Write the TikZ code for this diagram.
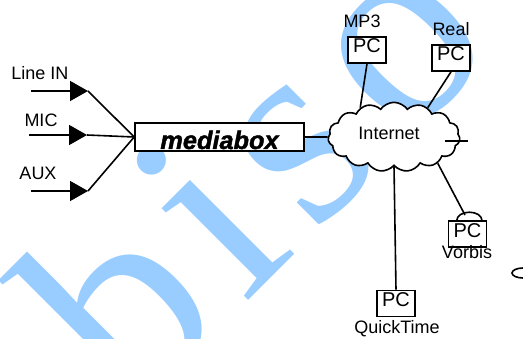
\documentclass[tikz,border=0pt]{standalone}
\usepackage{fontspec}
\setmainfont{Liberation Sans}
\newfontfamily\wmfont[LetterSpace=7.5]{Liberation Serif}
\newfontfamily\boxfont[FakeBold=1.6]{Liberation Sans}
\usepackage{tikz}
\usetikzlibrary{arrows.meta,shapes.symbols}
\definecolor{wmblue}{HTML}{99CCFF}

\begin{document}
\begin{tikzpicture}[x=0.75pt,y=-0.75pt,
  lbl/.style={inner sep=0pt,font=\fontsize{13.5}{14}\selectfont},
  pc/.style={draw,fill=white,line width=1.2pt,minimum width=28.5pt,inner xsep=0pt,inner ysep=1pt,
    text height=11pt,text depth=6.5pt,font=\fontsize{15}{15}\selectfont},
  e/.style={line width=1.2pt},
  src/.style={e,-{Triangle[length=13.5pt,width=15pt]}}]
  \useasboundingbox (0,0) rectangle (523,338);
  \clip (0,0) rectangle (523,338);
  % watermark behind everything
  \node[rotate=45,anchor=base west,inner sep=0pt,text=wmblue,font=\wmfont\fontsize{206}{206}\selectfont] (wm) at (133,416) {biso};
  % sources
  \node[lbl] (li) at (40,73) {Line IN}; \node[lbl] (mic) at (41,120) {MIC}; \node[lbl] (aux) at (38,173) {AUX};
  \coordinate (li0) at (31,91); \coordinate (li1) at (88,91);
  \coordinate (mic0) at (29,135); \coordinate (mic1) at (87,135);
  \coordinate (aux0) at (31,191); \coordinate (aux1) at (88,191);
  \node[draw,fill=white,line width=1.2pt,minimum width=126.75pt,inner xsep=0pt,inner ysep=0pt,text height=19.5pt,text depth=1.5pt,
    font=\boxfont\fontsize{19}{19}\selectfont\bfseries\itshape] (mb) at (219.5,137) {mediabox};
  \draw[src] (li0) -- (li1); \draw[src] (mic0) -- (mic1); \draw[src] (aux0) -- (aux1);
  \draw[e] (li1) -- (mb.west) (mic1) -- (mb.west) (aux1) -- (mb.west);
  % network
  \node[cloud,draw,fill=white,line width=1.2pt,cloud puffs=15,cloud puff arc=110,aspect=2,minimum width=99pt,minimum height=52pt,
    inner sep=0pt] (net) at (394,137) {};
  \node[lbl] (inet) at (389,133) {Internet};
  \draw[e] (mb.east) -- (net.west);
  \draw[e] (445,141) -- (468,141);
  \node[pc] (mp3) at (367,50) {PC}; \node[pc] (real) at (451,58) {PC};
  \node[pc] (qt) at (396,303.5) {PC}; \node[pc] (vb) at (467.5,234) {PC};
  \node[lbl] at (362,21) {MP3}; \node[lbl] at (451,29) {Real};
  \node[lbl] at (397,329) {QuickTime}; \node[lbl] at (467,252) {Vorbis};
  \draw[e] ([xshift=-8pt]vb.north) arc[start angle=180,end angle=0,x radius=9.4pt,y radius=6pt];
  \coordinate (vbt) at (465,215);
  \draw[e] (mp3.south) -- (net.139); \draw[e] (real.south) -- (net.41);
  \draw[e] (net.south) -- (qt.north); \draw[e] (net.-31) -- (vbt);
  \draw[e] (523,273) ellipse[x radius=8.25pt,y radius=3.75pt];
\end{tikzpicture}
\end{document}
